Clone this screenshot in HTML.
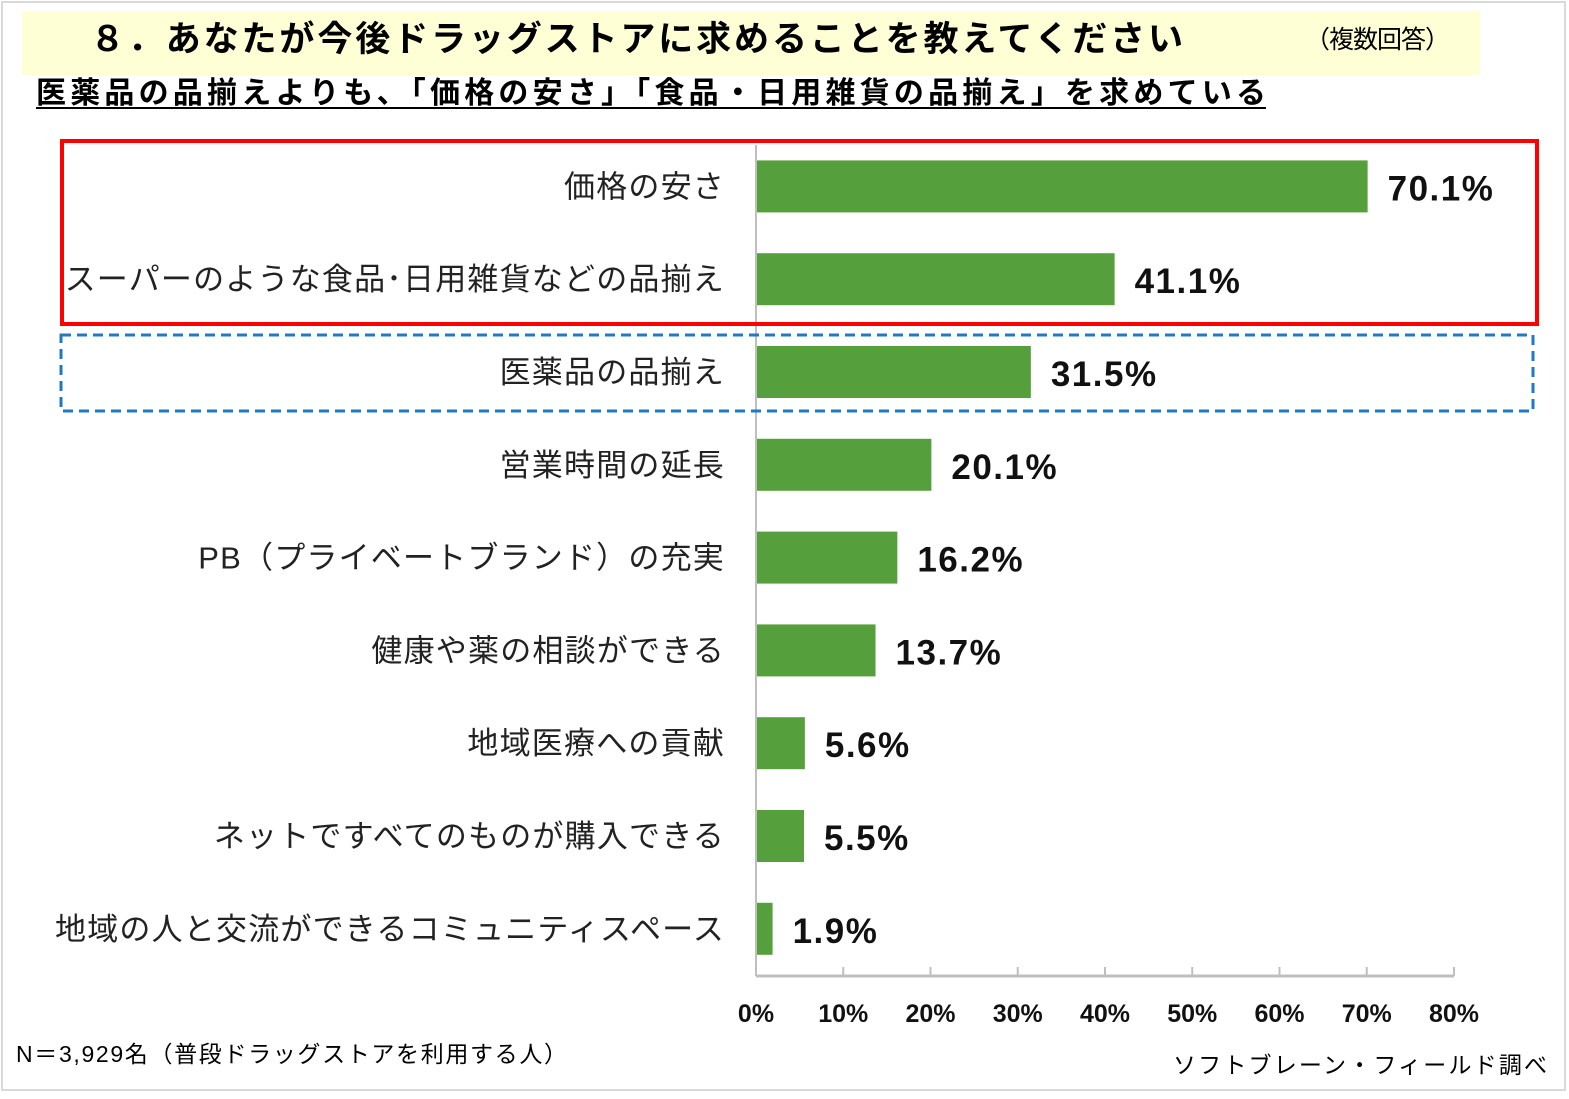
<!DOCTYPE html>
<html><head><meta charset="utf-8"><style>
html,body{margin:0;padding:0;background:#fff;}
svg{display:block;font-family:"Liberation Sans","Noto Sans CJK JP",sans-serif;}
</style></head><body>
<svg id="chart" width="1569" height="1099" viewBox="0 0 1569 1099">
<rect x="2" y="2" width="1563" height="1088" fill="#fff" stroke="#d9d9d9" stroke-width="2"/>
<rect x="22" y="11" width="1458" height="64" fill="#ffffd6"/>
<text x="90" y="51" font-size="35" font-weight="bold" fill="#000" textLength="1093" lengthAdjust="spacing">８．あなたが今後ドラッグストアに求めることを教えてください</text>
<text x="1305" y="48" font-size="25" fill="#000" textLength="145" lengthAdjust="spacing">（複数回答）</text>
<text x="36" y="103" font-size="30" font-weight="bold" fill="#000" textLength="1230" lengthAdjust="spacing">医薬品の品揃えよりも、「価格の安さ」「食品・日用雑貨の品揃え」を求めている</text>
<line x1="36" y1="108" x2="1266" y2="108" stroke="#000" stroke-width="2"/>
<g id="plot"></g>
<rect x="62" y="141" width="1475" height="183" fill="none" stroke="#f00" stroke-width="4"/>
<rect x="61" y="335" width="1472" height="76" fill="none" stroke="#1f78c8" stroke-width="3" stroke-dasharray="10,6"/>
<text x="16" y="1062" font-size="23" fill="#000" textLength="551" lengthAdjust="spacing">N＝3,929名（普段ドラッグストアを利用する人）</text>
<text x="1173" y="1073" font-size="23" fill="#000" textLength="374" lengthAdjust="spacing">ソフトブレーン・フィールド調べ</text>
</svg>
<script>
const categories=["価格の安さ","スーパーのような食品･日用雑貨などの品揃え","医薬品の品揃え","営業時間の延長","PB（プライベートブランド）の充実","健康や薬の相談ができる","地域医療への貢献","ネットですべてのものが購入できる","地域の人と交流ができるコミュニティスペース"];
const values=[70.1,41.1,31.5,20.1,16.2,13.7,5.6,5.5,1.9];
const ticks=[0,10,20,30,40,50,60,70,80];
const NS="http://www.w3.org/2000/svg";
const g=document.getElementById('plot');
const x0=756,x1=1454,vmax=80,yTop=140,band=92.8,barH=52,axisY=976;
const xs=v=>x0+(v/vmax)*(x1-x0);
const yc=i=>yTop+band*(i+0.5);
function mk(t,a){const e=document.createElementNS(NS,t);for(const k in a)e.setAttribute(k,a[k]);g.appendChild(e);return e;}
categories.forEach((c,i)=>{
  const r=mk('rect',{x:x0,y:yc(i)-barH/2,width:xs(values[i])-x0,height:barH,fill:'#569f3d'});
  
  
  const l=mk('text',{x:725,y:yc(i)+11,'font-size':31,'letter-spacing':1.2,'text-anchor':'end',fill:'#222'});
  l.textContent=c;
  
  
  const v=mk('text',{x:xs(values[i])+20,y:yc(i)+14,'font-size':35,'font-weight':'bold','letter-spacing':1.5,fill:'#111'});
  v.textContent=values[i].toFixed(1)+'%';
  
  
});
const ax=mk('line',{x1:x0,y1:axisY,x2:x1,y2:axisY,stroke:'#bfbfbf','stroke-width':3});


const ay=mk('line',{x1:x0,y1:yTop+5,x2:x0,y2:axisY,stroke:'#bfbfbf','stroke-width':2});


ticks.forEach(t=>{
  const tk=mk('line',{x1:xs(t),y1:axisY-9,x2:xs(t),y2:axisY,stroke:'#bfbfbf','stroke-width':2});
  
  
  const tl=mk('text',{x:xs(t),y:1022,'font-size':25,'font-weight':'bold','text-anchor':'middle',fill:'#111'});
  tl.textContent=t+'%';
  
  
});
</script>
</body></html>
